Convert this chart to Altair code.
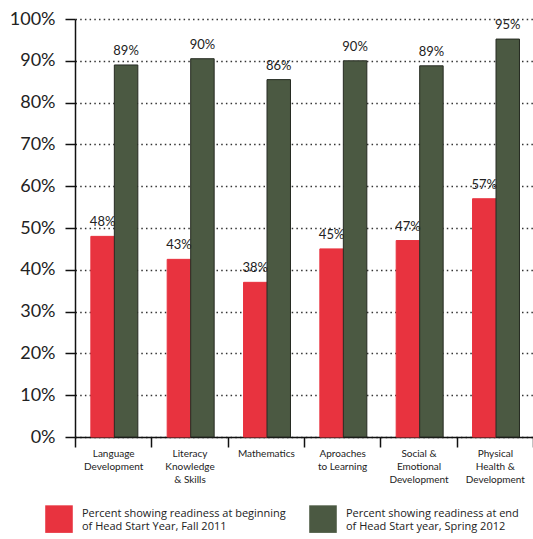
import altair as alt
import pandas as pd

categories = [
    "Language|Development",
    "Literacy|Knowledge|& Skills",
    "Mathematics",
    "Aproaches|to Learning",
    "Social &|Emotional|Development",
    "Physical|Health &|Development",
]
fall_2011 = [0.48, 0.43, 0.38, 0.45, 0.47, 0.57]
fall_bar = [0.48, 0.425, 0.37, 0.45, 0.47, 0.57]
spring_2012 = [0.89, 0.90, 0.86, 0.90, 0.89, 0.95]
spring_bar = [0.89, 0.905, 0.855, 0.90, 0.888, 0.952]
series_names = [
    "Percent showing readiness at beginning|of Head Start Year, Fall 2011",
    "Percent showing readiness at end|of Head Start year, Spring 2012",
]
colors = ["#e8333f", "#4b5942"]
strokes = ["#e8333f", "#262b22"]

rows = []
for i, c in enumerate(categories):
    rows.append({"cat": c, "series": series_names[0], "bar": fall_bar[i], "label": fall_2011[i]})
    rows.append({"cat": c, "series": series_names[1], "bar": spring_bar[i], "label": spring_2012[i]})
df = pd.DataFrame(rows)

FONT = "Lato"

x = alt.X(
    "cat:N",
    sort=categories,
    scale=alt.Scale(paddingInner=0, paddingOuter=0),
    axis=alt.Axis(
        title=None,
        labelExpr="split(datum.label, '|')",
        labelAngle=0,
        labelFont=FONT,
        labelFontSize=10,
        labelColor="#222222",
        labelPadding=1,
        labelLineHeight=13,
        labelBaseline="top",
        tickBand="extent",
        tickSize=10,
        tickColor="#111111",
        tickWidth=1.5,
        domainColor="#111111",
        domainWidth=1.5,
        grid=False,
    ),
)
xo = alt.XOffset(
    "series:N",
    sort=series_names,
    scale=alt.Scale(paddingOuter=0.625, paddingInner=0, align=0.54),
)
y = alt.Y(
    "bar:Q",
    scale=alt.Scale(domain=[0, 1], nice=False),
    axis=alt.Axis(
        title=None,
        format=".0%",
        values=[0, 0.1, 0.2, 0.3, 0.4, 0.5, 0.6, 0.7, 0.8, 0.9, 1.0],
        labelFont=FONT,
        labelFontSize=18,
        labelColor="#222222",
        labelPadding=10,
        tickSize=10,
        tickColor="#111111",
        tickWidth=1.5,
        domainColor="#111111",
        domainWidth=1.5,
        grid=True,
        gridDash=[1.5, 3.2],
        gridColor="#333333",
        gridWidth=1.5,
    ),
)

bars = alt.Chart(df).mark_bar(strokeWidth=1).encode(
    x=x,
    xOffset=xo,
    y=y,
    color=alt.Color(
        "series:N",
        sort=series_names,
        scale=alt.Scale(domain=series_names, range=colors),
        legend=alt.Legend(
            title=None,
            orient="none",
            legendX=-30,
            legendY=486,
            direction="horizontal",
            columns=2,
            columnPadding=23,
            symbolType="square",
            symbolSize=760,
            symbolStrokeWidth=0,
            symbolOpacity=1,
            labelExpr="split(datum.label, '|')",
            labelFont="Open Sans",
            labelFontSize=11,
            labelColor="#222222",
            labelLimit=400,
            labelOffset=9,
            labelBaseline="bottom",
            padding=0,
        ),
    ),
    stroke=alt.Stroke(
        "series:N",
        sort=series_names,
        scale=alt.Scale(domain=series_names, range=strokes),
        legend=None,
    ),
)

labels = alt.Chart(df).mark_text(
    dy=-7, font=FONT, fontSize=13, color="#222222", baseline="bottom"
).encode(
    x=alt.X("cat:N", sort=categories),
    xOffset=alt.XOffset("series:N", sort=series_names),
    y=alt.Y("bar:Q"),
    text=alt.Text("label:Q", format=".0%"),
)

chart = (
    alt.layer(bars, labels)
    .properties(
        width=458,
        height=418,
        padding={"left": 75, "top": 19, "right": 0, "bottom": 102},
        autosize=alt.AutoSizeParams(type="none"),
        background="white",
    )
    .configure_view(stroke=None)
)

chart.save("out.html", embed_options={"renderer": "svg", "actions": False})
